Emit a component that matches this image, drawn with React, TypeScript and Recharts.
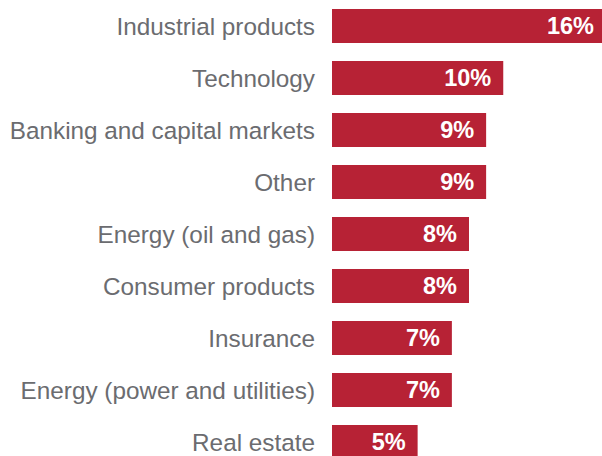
import { BarChart, Bar, XAxis, YAxis, LabelList } from 'recharts';

const categories = [
  'Industrial products',
  'Technology',
  'Banking and capital markets',
  'Other',
  'Energy (oil and gas)',
  'Consumer products',
  'Insurance',
  'Energy (power and utilities)',
  'Real estate',
];
const shares = [16, 10, 9, 9, 8, 8, 7, 7, 5];

const data = categories.map((name, i) => ({ name, value: shares[i] }));

const FONT = '"Liberation Sans", Arial, Helvetica, sans-serif';

export default function App() {
  return (
    <div
      style={{
        position: 'absolute',
        left: 0,
        top: 0,
        width: 602,
        height: 456,
        overflow: 'hidden',
        background: '#fff',
      }}
    >
      <BarChart
        width={606}
        height={468}
        data={data}
        layout="vertical"
        margin={{ top: 0, right: 0, left: 0, bottom: 0 }}
      >
        <XAxis type="number" domain={[0, 16]} hide />
        <YAxis
          type="category"
          dataKey="name"
          width={332}
          axisLine={false}
          tickLine={false}
          tickSize={0}
          tickMargin={17}
          tick={{ fontSize: 24.3, fill: '#6b6c70', fontFamily: FONT }}
        />
        <Bar dataKey="value" fill="#b72235" barSize={34} isAnimationActive={false}>
          <LabelList
            dataKey="value"
            position="insideRight"
            offset={12}
            formatter={(v: number) => `${v}%`}
            style={{ fill: '#fff', fontSize: 23.5, fontWeight: 700, fontFamily: FONT }}
          />
        </Bar>
      </BarChart>
    </div>
  );
}
